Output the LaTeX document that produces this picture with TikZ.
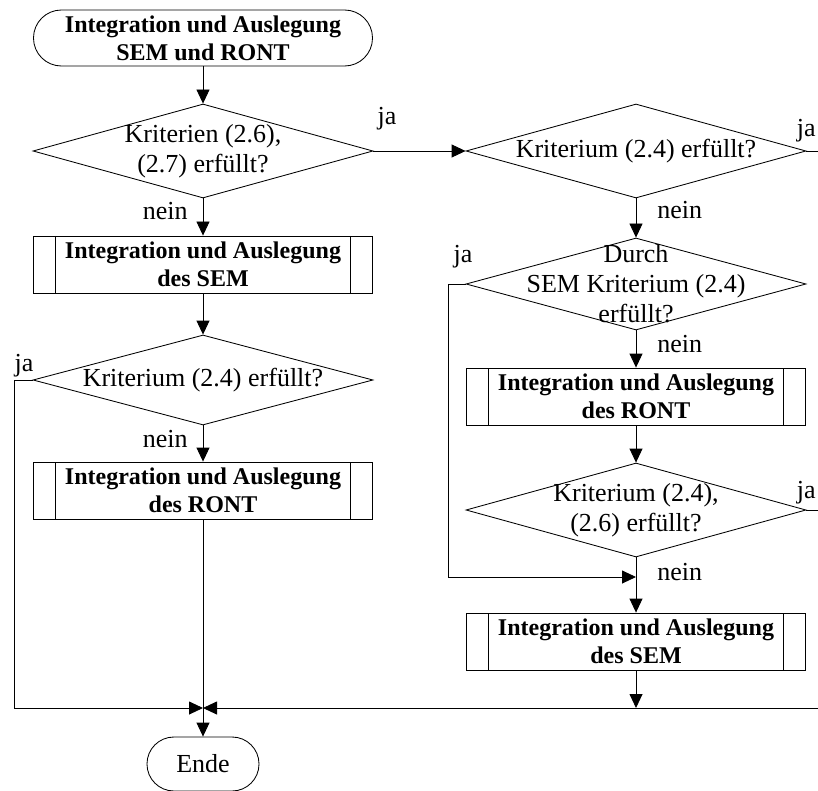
\documentclass[tikz,border=0pt]{standalone}
\usepackage{fontspec}
\setmainfont{Liberation Serif}
\usetikzlibrary{shapes.geometric,arrows.meta}
\begin{document}
\begin{tikzpicture}[x=1pt,y=-1pt,
  line width=0.85pt,
  boldtext/.style={font=\fontsize{24}{28}\selectfont\bfseries, align=center},
  plaintext/.style={font=\fontsize{26}{30}\selectfont, align=center},
  terminal/.style={draw, rectangle, rounded corners=27.9pt, minimum width=339pt,
    minimum height=56pt, inner sep=0pt, boldtext},
  decision/.style={draw, diamond, minimum width=340pt, minimum height=94pt, inner sep=0pt},
  procbox/.style={draw, rectangle, minimum width=339pt, minimum height=57pt,
    inner sep=0pt, boldtext,
    path picture={
      \draw ([xshift=22pt]path picture bounding box.north west) --
            ([xshift=22pt]path picture bounding box.south west);
      \draw ([xshift=-22pt]path picture bounding box.north east) --
            ([xshift=-22pt]path picture bounding box.south east);
    }},
  flow/.style={-{Triangle[length=14pt,width=13pt]}},
  lbl/.style={plaintext, inner sep=0pt}
]
\useasboundingbox (0,0) rectangle (818,791);

% left column
\node[terminal] (start) at (203,38) {Integration und Auslegung\\SEM und RONT};
\node[decision, label={[plaintext]center:{Kriterien (2.6),\\(2.7) erfüllt?}}] (d1) at (203,151) {};
\node[procbox] (b1) at (203,264.5) {Integration und Auslegung\\des SEM};
\node[decision, minimum height=90pt, label={[plaintext]center:{Kriterium (2.4) erfüllt?}}] (d3) at (203,380) {};
\node[procbox] (b2) at (203,490.5) {Integration und Auslegung\\des RONT};
\node[terminal, plaintext, minimum width=112pt, minimum height=54pt, rounded corners=26.9pt] (ende) at (203,764) {Ende};

% right column
\node[decision, label={[plaintext]center:{Kriterium (2.4) erfüllt?}}] (d2) at (636,151) {};
\node[decision, minimum height=92pt, label={[plaintext]center:{Durch\\SEM Kriterium (2.4)\\erfüllt?}}] (d4) at (636,284) {};
\node[procbox] (b3) at (636,396.5) {Integration und Auslegung\\des RONT};
\node[decision, label={[plaintext]center:{Kriterium (2.4),\\(2.6) erfüllt?}}] (d5) at (636,510) {};
\node[procbox] (b4) at (636,641.5) {Integration und Auslegung\\des SEM};

% junctions and rails
\coordinate (j) at (203,708);
\coordinate (lrail) at (14,708);
\coordinate (rjoin) at (636,708);
\coordinate (redge) at (818,708);
\coordinate (rrail) at (448,577);
\coordinate (mjoin) at (636,577);
\coordinate (d2out) at (818,151);
\coordinate (d5out) at (818,510);

% connectors
\draw[flow] (start.south) -- (d1.north);
\draw[flow] (d1.east) -- (d2.west);
\draw[flow] (d1.south) -- (b1.north);
\draw[flow] (b1.south) -- (d3.north);
\draw[flow] (d3.south) -- (b2.north);
\draw[flow] (d3.west) -| (lrail) -- (j);
\draw[flow] (b2.south) -- (ende.north);
\draw[flow] (redge) -- (j);

\draw (d2.east) -- (d2out);
\draw[flow] (d2.south) -- (d4.north);
\draw[flow] (d4.west) -| (rrail) -- (mjoin);
\draw[flow] (d4.south) -- (b3.north);
\draw[flow] (b3.south) -- (d5.north);
\draw (d5.east) -- (d5out);
\draw[flow] (d5.south) -- (b4.north);
\draw[flow] (b4.south) -- (rjoin);

% branch labels
\node[lbl, anchor=base] (ja1) at (387,125) {ja};
\node[lbl, anchor=base east] (n1) at (188,220) {nein};
\node[lbl, anchor=base] (ja3) at (24,371) {ja};
\node[lbl, anchor=base east] (n3) at (188,447) {nein};
\node[lbl, anchor=base east] (ja2) at (816,137) {ja};
\node[lbl, anchor=base west] (n2) at (657,219) {nein};
\node[lbl, anchor=base] (ja4) at (463,263) {ja};
\node[lbl, anchor=base west] (n4) at (657,352) {nein};
\node[lbl, anchor=base east] (ja5) at (816,498) {ja};
\node[lbl, anchor=base west] (n5) at (657,580) {nein};
\end{tikzpicture}
\end{document}
